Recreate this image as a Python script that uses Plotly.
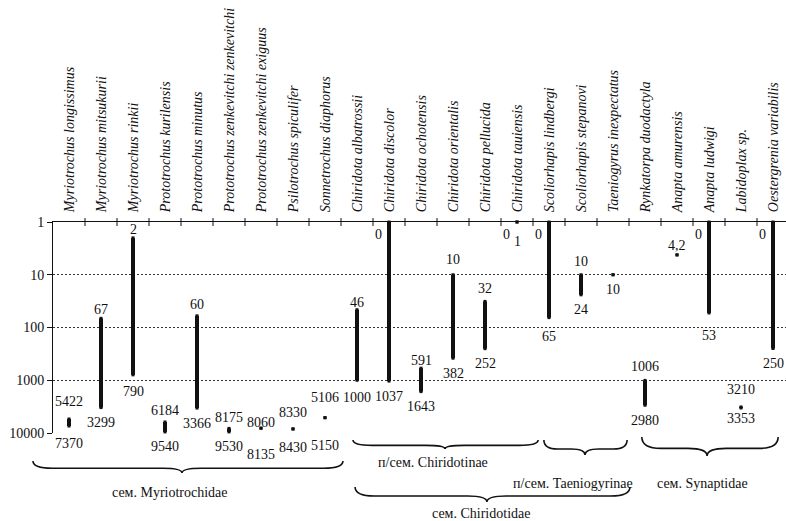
import math
import plotly.graph_objects as go

# Depth ranges (m) of holothurian species of the order Apodida
species = [
    "Myriotrochus longissimus",
    "Myriotrochus mitsukurii",
    "Myriotrochus rinkii",
    "Prototrochus kurilensis",
    "Prototrochus minutus",
    "Prototrochus zenkevitchi zenkevitchi",
    "Prototrochus zenkevitchi exiguus",
    "Psilotrochus spiculifer",
    "Sonnetrochus diaphorus",
    "Chiridota albatrossii",
    "Chiridota discolor",
    "Chiridota ochotensis",
    "Chiridota orientalis",
    "Chiridota pellucida",
    "Chiridota tauiensis",
    "Scoliorhapis lindbergi",
    "Scoliorhapis stepanovi",
    "Taeniogyrus inexpectatus",
    "Rynkatorpa duodactyla",
    "Anapta amurensis",
    "Anapta ludwigi",
    "Labidoplax sp.",
    "Oestergrenia variabilis",
]
depth_min = [5422, 67, 2, 6184, 60, 8175, 8060, 8330, 5106, 46, 0, 591, 10, 32,
             0, 0, 10, 10, 1006, 4.2, 0, 3210, 0]
depth_max = [7370, 3299, 790, 9540, 3366, 9530, 8135, 8430, 5150, 1000, 1037, 1643,
             382, 252, 1, 65, 24, 10, 2980, 4.2, 53, 3353, 250]

y_ticks = [1, 10, 100, 1000, 10000]
y_tick_text = ["1", "10", "100", "1000", "10000"]

# taxonomic groups shown with braces under the chart:
# (label, left, right, tip, in category units)
groups = [
    ("сем. Myriotrochidae", -1.125, 8.56, 3.53),
    ("п/сем. Chiridotinae", 8.875, 14.66, 11.75),
    ("п/сем. Taeniogyrinae", 14.84, 17.44, 16.125),
    ("сем. Synaptidae", 17.9, 22.16, 19.94),
    ("сем. Chiridotidae", 8.94, 17.53, 13.06),
]

# ---- layout geometry ----
W, H = 786, 521
M_L, M_R, M_T, M_B = 53, 0, 222, 88
X_RANGE = [-0.5, 22.406]
PLOT_H = H - M_T - M_B

FONT = "Liberation Serif"
INK = "#111111"

# brace placement (pixel rows) and caption placement, per group
BRACE_ROWS = [(461, 473), (440, 449), (440, 455), (437, 456), (487, 502)]
CAPTIONS = [(3.16, 492), (11.375, 462), (15.75, 483), (19.8, 483), (12.875, 513)]

# label gaps (px between bar end and label centre)
TOP_GAP_DEFAULT, BOTTOM_GAP_DEFAULT = 11, 15
TOP_GAP = {0: 17, 1: 9, 2: 8, 6: 6, 7: 16, 8: 20, 9: 7, 11: 8, 12: 15, 13: 13,
           16: 13, 18: 14, 19: 9, 21: 17}
BOTTOM_GAP = {0: 17, 2: 17, 6: 26, 7: 18, 8: 28, 9: 17, 14: 19, 15: 19, 20: 23,
              21: 11}
SINGLE_BELOW = {17}


def paper_y(py):
    return (H - M_B - py) / PLOT_H


def paper_x(c):
    return (c - X_RANGE[0]) / (X_RANGE[1] - X_RANGE[0])


def on_axis(v):
    # depth 0 is drawn at the upper edge of the logarithmic axis
    return max(v, 1)


def fmt(v):
    return f"{v:g}".replace(".", ",")


fig = go.Figure()

# vertical range bars
xs, ys = [], []
for i, (a, b) in enumerate(zip(depth_min, depth_max)):
    xs += [i, i, None]
    ys += [on_axis(a), on_axis(b), None]
fig.add_trace(go.Scatter(
    x=xs, y=ys, mode="lines", line=dict(color=INK, width=4),
    hoverinfo="skip", showlegend=False,
))
# end points
n = len(species)
fig.add_trace(go.Scatter(
    x=list(range(n)) * 2,
    y=[on_axis(v) for v in depth_min] + [on_axis(v) for v in depth_max],
    mode="markers", marker=dict(color=INK, size=3, symbol="square"),
    hoverinfo="skip", showlegend=False, cliponaxis=False,
))

annotations = []
lab_font = dict(family=FONT, size=14, color=INK)


def add_label(i, v, shift, **kw):
    annotations.append(dict(
        x=i, y=math.log10(on_axis(v)), xref="x", yref="y", text=fmt(v),
        showarrow=False, yanchor="middle", yshift=shift, font=lab_font, **kw
    ))


for i, (a, b) in enumerate(zip(depth_min, depth_max)):
    if a == b:
        if i in SINGLE_BELOW:
            add_label(i, b, -BOTTOM_GAP.get(i, BOTTOM_GAP_DEFAULT))
        else:
            add_label(i, a, TOP_GAP.get(i, TOP_GAP_DEFAULT))
        continue
    if a == 0:
        add_label(i, a, -12, xanchor="right", xshift=-5)
    else:
        add_label(i, a, TOP_GAP.get(i, TOP_GAP_DEFAULT))
    add_label(i, b, -BOTTOM_GAP.get(i, BOTTOM_GAP_DEFAULT))

shapes = []
# tick marks on category boundaries, crossing the top axis line
for k in range(n - 1):
    shapes.append(dict(
        type="line", xref="x", yref="paper", x0=k + 0.5, x1=k + 0.5,
        ysizemode="pixel", yanchor=1, y0=-4, y1=4,
        line=dict(color=INK, width=1),
    ))

# curly braces for the taxonomic groups
for (label, left, right, tip), (ytop, ytip), (cx, cy) in zip(groups, BRACE_ROWS, CAPTIONS):
    xl, xr, xc = paper_x(left), paper_x(right), paper_x(tip)
    y0 = paper_y(ytop)
    ym = paper_y(ytop + (ytip - ytop) * 0.6)
    y1 = paper_y(ytip)
    q = min(paper_x(0.6) - paper_x(0), (xc - xl) / 3, (xr - xc) / 3)
    path = (
        f"M {xl},{y0} Q {xl},{ym} {xl + q},{ym} "
        f"L {xc - q},{ym} Q {xc},{ym} {xc},{y1} "
        f"Q {xc},{ym} {xc + q},{ym} "
        f"L {xr - q},{ym} Q {xr},{ym} {xr},{y0}"
    )
    shapes.append(dict(type="path", xref="paper", yref="paper", path=path,
                       line=dict(color=INK, width=1.6)))
    annotations.append(dict(
        x=paper_x(cx), y=paper_y(cy), xref="paper", yref="paper", text=label,
        showarrow=False, xanchor="center", yanchor="middle", font=lab_font,
    ))

fig.update_layout(
    width=W, height=H,
    margin=dict(l=M_L, r=M_R, t=M_T, b=M_B, pad=0),
    paper_bgcolor="white", plot_bgcolor="white",
    showlegend=False,
    shapes=shapes, annotations=annotations,
    xaxis=dict(
        range=X_RANGE, side="top", tickmode="array",
        tickvals=list(range(n)), ticktext=species, tickangle=-90,
        tickfont=dict(family=FONT, size=14, color=INK, style="italic"),
        ticks="", ticklabelstandoff=6,
        showline=True, linecolor=INK, linewidth=1,
        showgrid=False, zeroline=False, fixedrange=True,
    ),
    yaxis=dict(
        type="log", range=[4, 0], tickmode="array",
        tickvals=y_ticks, ticktext=y_tick_text,
        tickfont=dict(family=FONT, size=14, color=INK),
        ticks="outside", ticklen=5, tickcolor=INK,
        showline=True, linecolor=INK, linewidth=1,
        showgrid=True, gridcolor="#333333", gridwidth=1, griddash="2px,2px",
        zeroline=False, fixedrange=True,
    ),
)

fig.write_html("out.html")
